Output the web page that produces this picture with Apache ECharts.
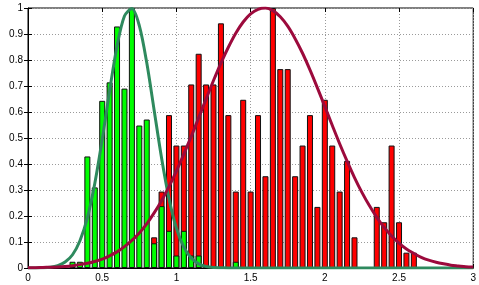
<!DOCTYPE html>
<html>
<head>
<meta charset="utf-8">
<script src="https://cdn.jsdelivr.net/npm/echarts@6/dist/echarts.min.js"></script>
<style>
  html, body { margin: 0; padding: 0; background: #fff; }
  #chart { width: 479px; height: 285px; }
</style>
</head>
<body>
<div id="chart"></div>
<script>
// histogram bins (bin centres) and normalised heights
const greenBins = [0.30, 0.35, 0.40, 0.45, 0.50, 0.55, 0.60, 0.65, 0.70, 0.75, 0.80, 0.85, 0.90, 0.95, 1.00, 1.05, 1.10, 1.15, 1.40];
const greenHeights = [0.024, 0.024, 0.429, 0.310, 0.643, 0.714, 0.929, 0.690, 1.0, 0.548, 0.571, 0.095, 0.238, 0.143, 0.048, 0.143, 0.048, 0.048, 0.024];

const redBins = [0.85, 0.90, 0.95, 1.00, 1.05, 1.10, 1.15, 1.20, 1.25, 1.30, 1.35, 1.40, 1.45, 1.50, 1.55, 1.60, 1.65, 1.70, 1.75, 1.80,
  1.85, 1.90, 1.95, 2.00, 2.05, 2.10, 2.15, 2.20, 2.35, 2.40, 2.45, 2.50, 2.55, 2.60];
const redHeights = [0.118, 0.294, 0.588, 0.471, 0.471, 0.706, 0.824, 0.706, 0.706, 0.941, 0.588, 0.294, 0.647, 0.294, 0.588, 0.353, 1.0, 0.765, 0.765, 0.353,
  0.471, 0.588, 0.235, 0.647, 0.471, 0.294, 0.412, 0.118, 0.235, 0.176, 0.471, 0.176, 0.059, 0.059];

// fitted curves at 0.05 steps
const curveX = [0, 0.05, 0.10, 0.15, 0.20, 0.25, 0.30, 0.35, 0.40, 0.45, 0.50, 0.55, 0.60, 0.65, 0.70, 0.75, 0.80, 0.85, 0.90, 0.95,
  1.00, 1.05, 1.10, 1.15, 1.20, 1.25, 1.30, 1.35, 1.40, 1.45, 1.50, 1.55, 1.60, 1.65, 1.70, 1.75, 1.80, 1.85, 1.90, 1.95,
  2.00, 2.05, 2.10, 2.15, 2.20, 2.25, 2.30, 2.35, 2.40, 2.45, 2.50, 2.55, 2.60, 2.65, 2.70, 2.75, 2.80, 2.85, 2.90, 2.95, 3.00];
const greenCurve = [0.0001, 0.0003, 0.001, 0.003, 0.009, 0.023, 0.051, 0.105, 0.193, 0.325, 0.494, 0.682, 0.854, 0.969, 0.998, 0.932, 0.790, 0.607, 0.423, 0.267,
  0.153, 0.080, 0.038, 0.016, 0.006, 0.002, 0.001, 0, 0, 0, 0, 0, 0, 0, 0, 0, 0, 0, 0, 0,
  0, 0, 0, 0, 0, 0, 0, 0, 0, 0, 0, 0, 0, 0, 0, 0, 0, 0, 0, 0, 0];
const redCurve = [0.001, 0.001, 0.002, 0.003, 0.004, 0.006, 0.009, 0.013, 0.018, 0.025, 0.034, 0.047, 0.062, 0.082, 0.106, 0.135, 0.170, 0.212, 0.259, 0.313,
  0.373, 0.438, 0.506, 0.578, 0.650, 0.721, 0.788, 0.849, 0.903, 0.946, 0.977, 0.995, 1.0, 0.990, 0.966, 0.930, 0.882, 0.826, 0.762, 0.693,
  0.621, 0.549, 0.478, 0.411, 0.348, 0.291, 0.240, 0.195, 0.156, 0.123, 0.096, 0.073, 0.056, 0.041, 0.030, 0.022, 0.016, 0.011, 0.008, 0.005, 0.004];

const xTicks = { min: 0, max: 3, interval: 0.5 };
const yTicks = { min: 0, max: 1, interval: 0.1 };

const pairs = (xs, ys) => xs.map((x, i) => [x, ys[i]]);

let myChart = echarts.init(document.getElementById('chart'));

const dotted = { show: true, lineStyle: { color: '#9a9a9a', type: [1, 2], width: 1 } };
const labelFont = { color: '#000', fontSize: 10, fontFamily: 'Liberation Sans, Arial, sans-serif' };

myChart.setOption({
  animation: false,
  grid: { left: 28, right: 3, top: 8, bottom: 17, show: true, borderColor: '#000', borderWidth: 1 },
  xAxis: [
    {
      type: 'value', min: xTicks.min, max: xTicks.max, interval: xTicks.interval,
      axisLine: { show: true, lineStyle: { color: '#000' } },
      axisTick: { show: true, inside: true, length: 4, lineStyle: { color: '#000' } },
      axisLabel: Object.assign({ margin: 5, formatter: v => String(v) }, labelFont),
      splitLine: dotted
    },
    // hidden twin so the green bars sit exactly on top of the red ones
    { type: 'value', min: xTicks.min, max: xTicks.max, show: false },
    {
      type: 'value', position: 'top', min: xTicks.min, max: xTicks.max, interval: xTicks.interval,
      axisLine: { show: false },
      axisTick: { show: true, inside: true, length: 4, lineStyle: { color: '#000' } },
      axisLabel: { show: false }, splitLine: { show: false }
    }
  ],
  yAxis: [
    {
      type: 'value', min: yTicks.min, max: yTicks.max, interval: yTicks.interval,
      axisLine: { show: true, lineStyle: { color: '#000' } },
      axisTick: { show: true, inside: true, length: 4, lineStyle: { color: '#000' } },
      axisLabel: Object.assign({ margin: 5, formatter: v => String(+v.toFixed(1)) }, labelFont),
      splitLine: dotted
    },
    {
      type: 'value', position: 'right', min: yTicks.min, max: yTicks.max, interval: yTicks.interval,
      axisLine: { show: false },
      axisTick: { show: true, inside: true, length: 4, lineStyle: { color: '#000' } },
      axisLabel: { show: false }, splitLine: { show: false }
    }
  ],
  series: [
    {
      type: 'bar', xAxisIndex: 0, yAxisIndex: 0, barWidth: 6,
      itemStyle: { color: '#ff0000', borderColor: '#111', borderWidth: 1 },
      data: pairs(redBins, redHeights)
    },
    {
      type: 'bar', xAxisIndex: 1, yAxisIndex: 0, barWidth: 6,
      itemStyle: { color: '#00ff00', borderColor: '#111', borderWidth: 1 },
      data: pairs(greenBins, greenHeights)
    },
    {
      type: 'line', xAxisIndex: 0, yAxisIndex: 0, showSymbol: false, smooth: 0.3,
      lineStyle: { color: '#2e8a5e', width: 3 },
      data: pairs(curveX, greenCurve)
    },
    {
      type: 'line', xAxisIndex: 0, yAxisIndex: 0, showSymbol: false, smooth: 0.3,
      lineStyle: { color: '#9c0a3c', width: 3 },
      data: pairs(curveX, redCurve)
    }
  ]
});
</script>
</body>
</html>
